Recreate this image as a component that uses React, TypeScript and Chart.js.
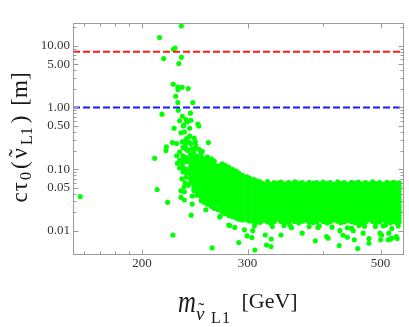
import React, { useEffect, useRef } from 'react';
import { Chart, registerables } from 'chart.js';

Chart.register(...registerables);

// ---------------- data ----------------
const xRange = [153.4, 547];
const yRange = [0.00407, 23.4];

const xMajor = [200, 300, 500];
const xMinor = [160, 170, 180, 190, 400];
const yMajor = [0.01, 0.05, 0.1, 0.5, 1, 5, 10];
const yMinor = [0.02, 0.03, 0.04, 0.06, 0.07, 0.08, 0.09, 0.2, 0.3, 0.4, 0.6, 0.7, 0.8, 0.9, 2, 3, 4, 6, 7, 8, 9, 20];

const redLevel = 8;
const blueLevel = 1;

// dense band: column masses and the lifetimes in each column
const bandMass = [231, 234, 237, 241, 244, 247, 251, 254, 257, 261, 264, 268, 272, 275, 279, 283, 287, 290, 294, 299,
  302, 307, 311, 315, 319, 324, 328, 332, 337, 341, 346, 351, 356, 360, 365, 370, 375, 380, 386, 391,
  396, 401, 407, 412, 418, 424, 429, 435, 441, 447, 453, 459, 466, 472, 478, 485, 491, 498, 505, 512,
  519, 526, 532, 537];

const bandY: number[][] = [
  [0.19, 0.14, 0.105],
  [0.225, 0.165, 0.14, 0.105, 0.09],
  [0.21, 0.155, 0.133, 0.1, 0.086, 0.074],
  [0.172, 0.148, 0.128, 0.11, 0.095, 0.082, 0.07, 0.06],
  [0.195, 0.168, 0.145, 0.125, 0.107, 0.093, 0.08, 0.069, 0.059, 0.051, 0.045],
  [0.163, 0.14, 0.121, 0.104, 0.09, 0.078, 0.067, 0.058, 0.05, 0.043, 0.038],
  [0.182, 0.157, 0.136, 0.117, 0.1, 0.087, 0.075, 0.065, 0.056, 0.048, 0.041, 0.036, 0.031],
  [0.147, 0.127, 0.11, 0.095, 0.082, 0.071, 0.061, 0.052, 0.045, 0.039, 0.034, 0.029],
  [0.158, 0.137, 0.118, 0.102, 0.088, 0.076, 0.066, 0.057, 0.049, 0.042, 0.036, 0.031, 0.027],
  [0.147, 0.127, 0.11, 0.095, 0.082, 0.071, 0.061, 0.053, 0.046, 0.04, 0.034, 0.029, 0.025],
  [0.136, 0.118, 0.102, 0.088, 0.076, 0.066, 0.057, 0.049, 0.042, 0.036, 0.031, 0.027, 0.023],
  [0.112, 0.097, 0.084, 0.072, 0.062, 0.054, 0.046, 0.04, 0.035, 0.03, 0.026, 0.022],
  [0.122, 0.105, 0.09, 0.078, 0.067, 0.058, 0.05, 0.043, 0.037, 0.032, 0.0275, 0.0237, 0.0205],
  [0.116, 0.1, 0.086, 0.074, 0.064, 0.055, 0.048, 0.041, 0.035, 0.03, 0.026, 0.0225, 0.019],
  [0.108, 0.093, 0.08, 0.069, 0.06, 0.052, 0.045, 0.039, 0.033, 0.0285, 0.0245, 0.021, 0.0178],
  [0.1, 0.087, 0.075, 0.065, 0.056, 0.048, 0.042, 0.036, 0.031, 0.027, 0.023, 0.02, 0.017],
  [0.093, 0.08, 0.069, 0.06, 0.052, 0.045, 0.039, 0.034, 0.029, 0.025, 0.0215, 0.0185, 0.0162],
  [0.087, 0.075, 0.065, 0.056, 0.048, 0.042, 0.036, 0.031, 0.027, 0.0235, 0.0203, 0.0175, 0.0155],
  [0.08, 0.069, 0.06, 0.052, 0.045, 0.039, 0.034, 0.029, 0.025, 0.0218, 0.0188, 0.0163, 0.015],
  [0.075, 0.065, 0.056, 0.048, 0.042, 0.036, 0.031, 0.027, 0.0235, 0.0203, 0.0176, 0.0152],
  [0.072, 0.062, 0.054, 0.046, 0.04, 0.035, 0.03, 0.026, 0.0225, 0.0195, 0.0168, 0.0145],
  [0.068, 0.059, 0.051, 0.044, 0.038, 0.033, 0.0285, 0.0245, 0.021, 0.0182, 0.0158, 0.014],
  [0.065, 0.056, 0.049, 0.042, 0.036, 0.031, 0.027, 0.0235, 0.0202, 0.0175, 0.0152, 0.0138],
  [0.062, 0.053, 0.046, 0.039, 0.034, 0.029, 0.025, 0.0215, 0.0186, 0.016, 0.0138],
  [0.058, 0.05, 0.043, 0.037, 0.032, 0.0272, 0.0233, 0.02, 0.0173, 0.0149],
  [0.063, 0.054, 0.0465, 0.04, 0.0345, 0.0295, 0.0255, 0.022, 0.0188, 0.0162, 0.014],
  [0.057, 0.049, 0.042, 0.0365, 0.0315, 0.027, 0.0235, 0.0203, 0.0175, 0.0151, 0.0133],
  [0.061, 0.0525, 0.0455, 0.039, 0.0338, 0.029, 0.025, 0.0216, 0.0186, 0.016, 0.0141],
  [0.059, 0.0505, 0.0435, 0.0375, 0.0322, 0.0278, 0.024, 0.0206, 0.0178, 0.0153],
  [0.062, 0.0535, 0.046, 0.0398, 0.0343, 0.0296, 0.0254, 0.0219, 0.0189, 0.0163, 0.0142],
  [0.0575, 0.0495, 0.0428, 0.0368, 0.0318, 0.0274, 0.0236, 0.0204, 0.0175, 0.0151, 0.0136],
  [0.0605, 0.052, 0.045, 0.0388, 0.0335, 0.0288, 0.0248, 0.0214, 0.0184, 0.0159, 0.014],
  [0.058, 0.05, 0.0432, 0.0372, 0.032, 0.0276, 0.0238, 0.0205, 0.0176, 0.0152],
  [0.0625, 0.0538, 0.0463, 0.04, 0.0344, 0.0297, 0.0256, 0.022, 0.019, 0.0164, 0.0141],
  [0.0585, 0.0503, 0.0435, 0.0374, 0.0323, 0.0278, 0.024, 0.0207, 0.0178, 0.0154, 0.0135],
  [0.061, 0.0526, 0.0453, 0.039, 0.0337, 0.029, 0.025, 0.0215, 0.0186, 0.016, 0.0143],
  [0.0565, 0.0488, 0.042, 0.0363, 0.0313, 0.027, 0.0232, 0.02, 0.0172, 0.0149],
  [0.0615, 0.053, 0.0457, 0.0394, 0.034, 0.0293, 0.0252, 0.0218, 0.0188, 0.0162, 0.014],
  [0.059, 0.0508, 0.0438, 0.0378, 0.0326, 0.028, 0.0242, 0.0208, 0.018, 0.0155, 0.0137],
  [0.0605, 0.0522, 0.045, 0.0388, 0.0334, 0.0288, 0.0248, 0.0214, 0.0185, 0.0159, 0.0139],
  [0.0575, 0.0496, 0.0428, 0.0369, 0.0318, 0.0274, 0.0236, 0.0204, 0.0176, 0.0152],
  [0.062, 0.0534, 0.046, 0.0397, 0.0342, 0.0295, 0.0254, 0.0219, 0.0189, 0.0163, 0.0142],
  [0.0585, 0.0504, 0.0434, 0.0374, 0.0323, 0.0278, 0.024, 0.0207, 0.0178, 0.0154, 0.0134],
  [0.061, 0.0525, 0.0453, 0.039, 0.0336, 0.029, 0.025, 0.0215, 0.0186, 0.016, 0.0141],
  [0.057, 0.0491, 0.0424, 0.0365, 0.0315, 0.0271, 0.0234, 0.0202, 0.0174, 0.015],
  [0.0625, 0.0537, 0.0462, 0.0398, 0.0343, 0.0296, 0.0255, 0.022, 0.019, 0.0163, 0.0143],
  [0.0585, 0.0505, 0.0435, 0.0375, 0.0323, 0.0279, 0.024, 0.0207, 0.0179, 0.0154, 0.0136],
  [0.0605, 0.052, 0.0449, 0.0387, 0.0334, 0.0288, 0.0248, 0.0214, 0.0184, 0.0159, 0.014],
  [0.0565, 0.0488, 0.042, 0.0362, 0.0312, 0.0269, 0.0232, 0.02, 0.0173, 0.0149],
  [0.0615, 0.053, 0.0457, 0.0394, 0.034, 0.0293, 0.0252, 0.0218, 0.0188, 0.0162, 0.0141],
  [0.059, 0.0508, 0.0438, 0.0378, 0.0326, 0.028, 0.0242, 0.0208, 0.018, 0.0155, 0.0136],
  [0.062, 0.0534, 0.046, 0.0397, 0.0342, 0.0295, 0.0254, 0.0219, 0.0189, 0.0163, 0.0143],
  [0.0575, 0.0496, 0.0428, 0.0369, 0.0318, 0.0274, 0.0236, 0.0204, 0.0176, 0.0152, 0.0134],
  [0.061, 0.0525, 0.0453, 0.039, 0.0336, 0.029, 0.025, 0.0215, 0.0186, 0.016, 0.014],
  [0.058, 0.05, 0.0432, 0.0372, 0.032, 0.0276, 0.0238, 0.0205, 0.0177, 0.0152],
  [0.0625, 0.0538, 0.0463, 0.04, 0.0344, 0.0297, 0.0256, 0.022, 0.019, 0.0164, 0.0142],
  [0.0585, 0.0503, 0.0435, 0.0374, 0.0323, 0.0278, 0.024, 0.0207, 0.0178, 0.0154, 0.0135],
  [0.0605, 0.0522, 0.045, 0.0388, 0.0334, 0.0288, 0.0248, 0.0214, 0.0185, 0.0159, 0.0139],
  [0.057, 0.0491, 0.0424, 0.0365, 0.0315, 0.0271, 0.0234, 0.0202, 0.0174, 0.015],
  [0.0615, 0.053, 0.0457, 0.0394, 0.034, 0.0293, 0.0252, 0.0218, 0.0188, 0.0162, 0.0141],
  [0.059, 0.0508, 0.0438, 0.0378, 0.0326, 0.028, 0.0242, 0.0208, 0.018, 0.0155, 0.0135],
  [0.0615, 0.053, 0.0457, 0.0394, 0.034, 0.0293, 0.0252, 0.0218, 0.0188, 0.0162, 0.0142],
  [0.0585, 0.0504, 0.0434, 0.0374, 0.0323, 0.0278, 0.024, 0.0207, 0.0178, 0.0154, 0.0136],
  [0.06, 0.0518, 0.0446, 0.0385, 0.0332, 0.0286, 0.0246, 0.0212, 0.0183, 0.0158, 0.0139],
];

// isolated points (mass [GeV], c tau [m])
const sparseMass = [
  232.6, 213.9, 225.6, 227, 217.3, 232.6, 230.3, 225.4, 229.5, 229.5, 233.3, 238.8, 227.6, 229.5, 243,
  229.8, 215.9, 240.8, 233.5, 241.3, 231, 236.7, 238, 247.8, 248.8, 226.2, 234.3, 232.2, 235.3, 240.1,
  244.4, 224.7, 228.4, 236.7, 238.9, 241.2, 237.3, 219.6, 219.2, 258, 245.3, 209.9, 234.8, 237.4, 240.1,
  245.4, 233.4, 233, 236, 239, 235,
  211.9, 232.2, 235.3, 232.2, 235.3, 242.5, 220.6, 242.5, 241.5, 225.2, 261.8, 157.7,
  255.5, 255.5, 269.5, 279, 280, 285.5, 270, 277, 290, 296.3, 299.3, 305, 306, 308, 308.4, 321, 328.5,
  322.6, 328.2, 341, 355, 370, 389, 406.3, 408.8, 426.5, 427.6, 433, 440, 447.3, 450.2, 452, 457.8,
  467.5, 478, 478, 498.7, 502, 500, 514.5, 518, 522, 516, 522, 533, 531, 380, 395, 415, 460, 490, 510,
  535, 345, 330, 352.8, 393, 440, 470, 505,
  229, 233.5, 238.5, 236, 242, 228.5, 246, 249, 252,
];
const sparseTau = [
  20.9, 13.6, 8.8, 9.2, 6.2, 6.5, 5.15, 2.38, 2.15, 1.95, 2.13, 2.03, 1.52, 1.2, 1.2,
  0.9, 0.78, 0.81, 0.72, 0.62, 0.61, 0.64, 0.585, 0.54, 0.5, 0.46, 0.5, 0.39, 0.4, 0.46,
  0.32, 0.27, 0.26, 0.3, 0.28, 0.26, 0.27, 0.23, 0.2, 0.27, 0.22, 0.15, 0.517, 0.315, 0.343,
  0.277, 0.277, 0.07, 0.06, 0.055, 0.052,
  0.047, 0.0447, 0.043, 0.035, 0.0316, 0.0367, 0.029, 0.0272, 0.018, 0.0086, 0.0053, 0.036,
  0.031, 0.022, 0.0168, 0.0125, 0.0122, 0.0114, 0.0173, 0.0193, 0.0065, 0.0104, 0.0083, 0.0078, 0.0101, 0.0121, 0.0049, 0.0086, 0.0074,
  0.0059, 0.0056, 0.0086, 0.0113, 0.0092, 0.0069, 0.0081, 0.0076, 0.0058, 0.0101, 0.0085, 0.0079, 0.011, 0.0101, 0.0072, 0.0052,
  0.0092, 0.0075, 0.0063, 0.0092, 0.0086, 0.0072, 0.0072, 0.0073, 0.0076, 0.0092, 0.0109, 0.0075, 0.0081, 0.0118, 0.012, 0.0115, 0.0122, 0.0118, 0.0125,
  0.012, 0.0122, 0.0118, 0.0125, 0.0114, 0.0112, 0.0119, 0.0121,
  0.125, 0.118, 0.2, 0.235, 0.215, 0.165, 0.24, 0.21, 0.195,
];

// ---------------- helpers ----------------
const SERIF = '"Liberation Serif", "Times New Roman", serif';
const xTickValues = [...xMinor, ...xMajor].sort((a, b) => a - b);
const yTickValues = [...yMinor, ...yMajor].sort((a, b) => a - b);

const framePlugin = {
  id: 'frameAndTitles',
  afterDraw(chart: any) {
    const { ctx, chartArea, scales } = chart;
    const xs = scales.x;
    const ys = scales.y;
    const L = Math.round(chartArea.left) + 0.5;
    const R = Math.round(chartArea.right) - 0.5;
    const T = Math.round(chartArea.top) + 0.5;
    const B = Math.round(chartArea.bottom) - 0.5;
    ctx.save();
    ctx.strokeStyle = '#9a9a9a';
    ctx.lineWidth = 1;
    ctx.strokeRect(L, T, R - L, B - T);
    ctx.beginPath();
    xTickValues.forEach((v) => {
      const len = xMajor.includes(v) ? 5 : 3;
      const p = Math.round(xs.getPixelForValue(v)) + 0.5;
      ctx.moveTo(p, B); ctx.lineTo(p, B - len);
      ctx.moveTo(p, T); ctx.lineTo(p, T + len);
    });
    yTickValues.forEach((v) => {
      const len = yMajor.includes(v) ? 5 : 3;
      const p = Math.round(ys.getPixelForValue(v)) + 0.5;
      ctx.moveTo(L, p); ctx.lineTo(L + len, p);
      ctx.moveTo(R, p); ctx.lineTo(R - len, p);
    });
    ctx.stroke();

    // x title
    ctx.fillStyle = '#1a1a1a';
    ctx.textBaseline = 'alphabetic';
    ctx.textAlign = 'left';
    ctx.save();
    ctx.translate(178, 311.5);
    ctx.scale(0.8, 1);
    ctx.font = `italic 31px ${SERIF}`;
    ctx.fillText('m', 0, 0);
    ctx.restore();
    ctx.font = `italic 19px ${SERIF}`;
    ctx.fillText('ν', 196, 320);
    const nuW = ctx.measureText('ν').width;
    ctx.textAlign = 'center';
    ctx.font = `19px ${SERIF}`;
    ctx.fillText('˜', 197 + nuW / 2, 316);
    ctx.textAlign = 'left';
    ctx.font = `16px ${SERIF}`;
    ctx.fillText('L', 211, 323);
    ctx.fillText('1', 222, 323);
    ctx.font = `22px ${SERIF}`;
    ctx.fillText('[GeV]', 241.5, 308);

    // y title (rotated)
    const parts = [
      { t: 'c', s: 23, dv: 0, gap: 0 },
      { t: 'τ', s: 23, dv: 0, gap: 1 },
      { t: '0', s: 16, dv: 4, gap: 2 },
      { t: '(', s: 23, dv: 0, gap: 3 },
      { t: 'ν', s: 23, dv: 0, gap: 3, tilde: true },
      { t: 'L1', s: 16, dv: 5, gap: 3 },
      { t: ')', s: 23, dv: 0, gap: 4 },
      { t: '[m]', s: 23, dv: 0, gap: 10 },
    ];
    let total = 0;
    const widths = parts.map((p) => {
      ctx.font = `${p.s}px ${SERIF}`;
      const w = ctx.measureText(p.t).width;
      total += w + p.gap;
      return w;
    });
    ctx.save();
    ctx.translate(27, 137.5 + total / 2);
    ctx.rotate(-Math.PI / 2);
    let u = 0;
    parts.forEach((p, i) => {
      u += p.gap;
      ctx.font = `${p.s}px ${SERIF}`;
      ctx.textAlign = 'left';
      ctx.fillText(p.t, u, p.dv);
      if ((p as any).tilde) {
        ctx.textAlign = 'center';
        ctx.fillText('˜', u + widths[i] / 2, -2);
      }
      u += widths[i];
    });
    ctx.restore();
    ctx.restore();
  },
};

export default function App() {
  const ref = useRef<HTMLCanvasElement | null>(null);
  useEffect(() => {
    if (!ref.current) return;
    const points: { x: number; y: number }[] = [];
    bandMass.forEach((m, i) => bandY[i].forEach((y) => points.push({ x: m, y })));
    sparseMass.forEach((m, i) => points.push({ x: m, y: sparseTau[i] }));

    const chart = new Chart(ref.current, {
      type: 'scatter',
      data: {
        datasets: [
          {
            type: 'line',
            data: [{ x: xRange[0], y: redLevel }, { x: xRange[1], y: redLevel }],
            borderColor: '#ff1a1a',
            borderWidth: 2,
            borderDash: [7, 3],
            pointRadius: 0,
            fill: false,
          } as any,
          {
            type: 'line',
            data: [{ x: xRange[0], y: blueLevel }, { x: xRange[1], y: blueLevel }],
            borderColor: '#1a1aff',
            borderWidth: 2,
            borderDash: [7, 3],
            pointRadius: 0,
            fill: false,
          } as any,
          {
            data: points,
            backgroundColor: '#00ff00',
            borderWidth: 0,
            pointRadius: 2.55,
            pointHoverRadius: 2.55,
          },
        ],
      },
      options: {
        animation: false,
        responsive: false,
        events: [],
        layout: { padding: { top: 23, right: 5, left: 0, bottom: 0 } },
        plugins: { legend: { display: false }, tooltip: { enabled: false } },
        scales: {
          x: {
            type: 'logarithmic',
            min: xRange[0],
            max: xRange[1],
            bounds: 'data',
            grid: { display: false, drawTicks: false },
            border: { display: false },
            afterBuildTicks: (s: any) => { s.ticks = xTickValues.map((v) => ({ value: v })); },
            afterFit: (s: any) => { s.height = 72; },
            ticks: {
              autoSkip: false,
              maxRotation: 0,
              padding: 1,
              color: '#333',
              font: { family: SERIF, size: 13 },
              callback: (v: any) => (xMajor.includes(Number(v)) ? String(v) : ''),
            },
          },
          y: {
            type: 'logarithmic',
            min: yRange[0],
            max: yRange[1],
            bounds: 'data',
            grid: { display: false, drawTicks: false },
            border: { display: false },
            afterBuildTicks: (s: any) => { s.ticks = yTickValues.map((v) => ({ value: v })); },
            afterFit: (s: any) => { s.width = 73; },
            ticks: {
              autoSkip: false,
              padding: 3,
              color: '#333',
              font: { family: SERIF, size: 13 },
              callback: (v: any) => (yMajor.includes(Number(v)) ? Number(v).toFixed(2) : ''),
            },
          },
        },
      },
      plugins: [framePlugin],
    });
    return () => chart.destroy();
  }, []);

  return (
    <div style={{ position: 'fixed', left: 0, top: 0, width: 409, height: 327, background: '#fff' }}>
      <canvas ref={ref} width={409} height={327} style={{ display: 'block' }} />
    </div>
  );
}
